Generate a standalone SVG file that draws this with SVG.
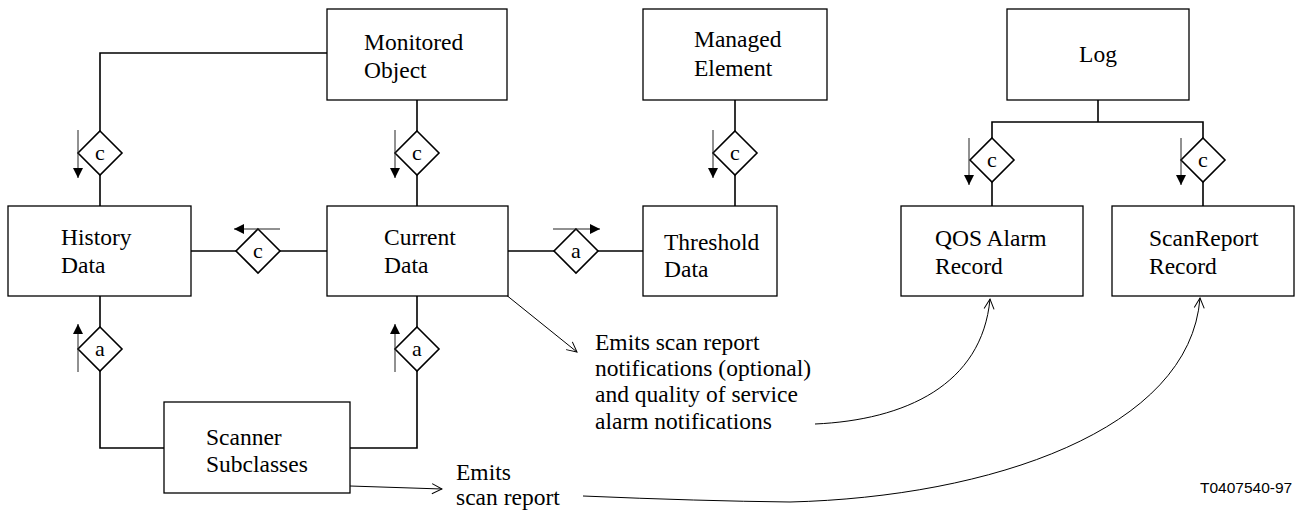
<svg xmlns="http://www.w3.org/2000/svg" width="1300" height="513" viewBox="0 0 1300 513">
  <style>
    .box { fill: #fff; stroke: #000; stroke-width: 1.3; }
    .lbl { font-family: "Liberation Serif", "Times New Roman", serif; font-size: 23.5px; fill: #000; }
    .dl { font-family: "Liberation Serif", "Times New Roman", serif; font-size: 22px; fill: #000; text-anchor: middle; }
    .ln { fill: none; stroke: #000; stroke-width: 1.6; }
    .dia { fill: #fff; stroke: #000; stroke-width: 1.6; }
    .dir { fill: none; stroke: #222; stroke-width: 1; marker-end: url(#solid); }
    .note { fill: none; stroke: #000; stroke-width: 1; marker-end: url(#open); }
    .ref { font-family: "Liberation Sans", Arial, sans-serif; font-size: 15.5px; fill: #000; }
  </style>
  <defs>
    <marker id="solid" viewBox="0 0 10 10" refX="10" refY="5" markerWidth="10" markerHeight="10" markerUnits="userSpaceOnUse" orient="auto">
      <path d="M0,0 L10,5 L0,10 Z" fill="#000"/>
    </marker>
    <marker id="open" viewBox="0 0 12 12" refX="11" refY="6" markerWidth="12" markerHeight="12" markerUnits="userSpaceOnUse" orient="auto">
      <path d="M1,1 L11,6 L1,11" fill="none" stroke="#000" stroke-width="1"/>
    </marker>
    <path id="d" d="M0,-22 L22,0 L0,22 L-22,0 Z"/>
  </defs>

  <!-- connectors -->
  <g id="connectors">
    <!-- Monitored Object to History Data -->
    <polyline class="ln" points="327,53 100,53 100,206"/>
    <!-- Monitored Object to Current Data -->
    <line class="ln" x1="417" y1="100" x2="417" y2="206"/>
    <!-- Managed Element to Threshold Data -->
    <line class="ln" x1="735" y1="100" x2="735" y2="206"/>
    <!-- Log to its records -->
    <line class="ln" x1="1098" y1="100" x2="1098" y2="122"/>
    <polyline class="ln" points="992,206 992,122 1203,122 1203,206"/>
    <!-- History - Current - Threshold -->
    <line class="ln" x1="191" y1="251" x2="327" y2="251"/>
    <line class="ln" x1="508" y1="251" x2="643" y2="251"/>
    <!-- Scanner Subclasses to History / Current -->
    <polyline class="ln" points="100,296 100,448 164,448"/>
    <polyline class="ln" points="417,296 417,448 350,448"/>

    <!-- relationship diamonds -->
    <use href="#d" class="dia" x="100" y="153"/>
    <text class="dl" x="100" y="160">c</text>
    <use href="#d" class="dia" x="417" y="153"/>
    <text class="dl" x="417" y="160">c</text>
    <use href="#d" class="dia" x="735" y="153"/>
    <text class="dl" x="735" y="160">c</text>
    <use href="#d" class="dia" x="992" y="160"/>
    <text class="dl" x="992" y="167">c</text>
    <use href="#d" class="dia" x="1203" y="160"/>
    <text class="dl" x="1203" y="167">c</text>
    <use href="#d" class="dia" x="258" y="251"/>
    <text class="dl" x="258" y="258">c</text>
    <use href="#d" class="dia" x="576" y="251"/>
    <text class="dl" x="576" y="258">a</text>
    <use href="#d" class="dia" x="100" y="349"/>
    <text class="dl" x="100" y="356">a</text>
    <use href="#d" class="dia" x="417" y="349"/>
    <text class="dl" x="417" y="356">a</text>

    <!-- reading direction arrows -->
    <line class="dir" x1="78" y1="130" x2="78" y2="178"/>
    <line class="dir" x1="395" y1="130" x2="395" y2="178"/>
    <line class="dir" x1="713" y1="130" x2="713" y2="178"/>
    <line class="dir" x1="969" y1="138" x2="969" y2="185"/>
    <line class="dir" x1="1181" y1="138" x2="1181" y2="185"/>
    <line class="dir" x1="280" y1="229" x2="234" y2="229"/>
    <line class="dir" x1="553" y1="229" x2="600" y2="229"/>
    <line class="dir" x1="78" y1="372" x2="78" y2="324"/>
    <line class="dir" x1="395" y1="372" x2="395" y2="324"/>

    <!-- notification pointers -->
    <line class="note" x1="500" y1="290" x2="577" y2="352"/>
    <path class="note" d="M815,424 C905,420 982,385 990,299"/>
    <line class="note" x1="350" y1="486" x2="442" y2="489"/>
    <path class="note" d="M583,496 Q700,501 790,502 C990,497 1190,430 1200,298"/>
  </g>

  <!-- nodes -->
  <g id="monitored-object">
    <rect class="box" x="327" y="9" width="180" height="91"/>
    <text class="lbl" x="364" y="50">Monitored</text>
    <text class="lbl" x="364" y="78">Object</text>
  </g>
  <g id="managed-element">
    <rect class="box" x="643" y="9" width="184" height="91"/>
    <text class="lbl" x="694" y="47">Managed</text>
    <text class="lbl" x="694" y="76">Element</text>
  </g>
  <g id="log">
    <rect class="box" x="1007" y="9" width="182" height="91"/>
    <text class="lbl" x="1098" y="62" text-anchor="middle">Log</text>
  </g>
  <g id="history-data">
    <rect class="box" x="8" y="206" width="183" height="90"/>
    <text class="lbl" x="61" y="245">History</text>
    <text class="lbl" x="61" y="273">Data</text>
  </g>
  <g id="current-data">
    <rect class="box" x="327" y="206" width="181" height="90"/>
    <text class="lbl" x="384" y="245">Current</text>
    <text class="lbl" x="384" y="273">Data</text>
  </g>
  <g id="threshold-data">
    <rect class="box" x="643" y="206" width="134" height="90"/>
    <text class="lbl" x="664" y="250">Threshold</text>
    <text class="lbl" x="664" y="277">Data</text>
  </g>
  <g id="qos-alarm-record">
    <rect class="box" x="901" y="206" width="182" height="90"/>
    <text class="lbl" x="935" y="246">QOS Alarm</text>
    <text class="lbl" x="935" y="274">Record</text>
  </g>
  <g id="scanreport-record">
    <rect class="box" x="1112" y="206" width="182" height="90"/>
    <text class="lbl" x="1149" y="246">ScanReport</text>
    <text class="lbl" x="1149" y="274">Record</text>
  </g>
  <g id="scanner-subclasses">
    <rect class="box" x="164" y="402" width="186" height="91"/>
    <text class="lbl" x="206" y="445">Scanner</text>
    <text class="lbl" x="206" y="472">Subclasses</text>
  </g>

  <!-- annotations -->
  <g id="notes">
    <text class="lbl" x="595" y="350">Emits scan report</text>
    <text class="lbl" x="595" y="376">notifications (optional)</text>
    <text class="lbl" x="595" y="402">and quality of service</text>
    <text class="lbl" x="595" y="429">alarm notifications</text>
    <text class="lbl" x="456" y="480">Emits</text>
    <text class="lbl" x="456" y="505">scan report</text>
    <text class="ref" x="1200" y="493">T0407540-97</text>
  </g>
</svg>
